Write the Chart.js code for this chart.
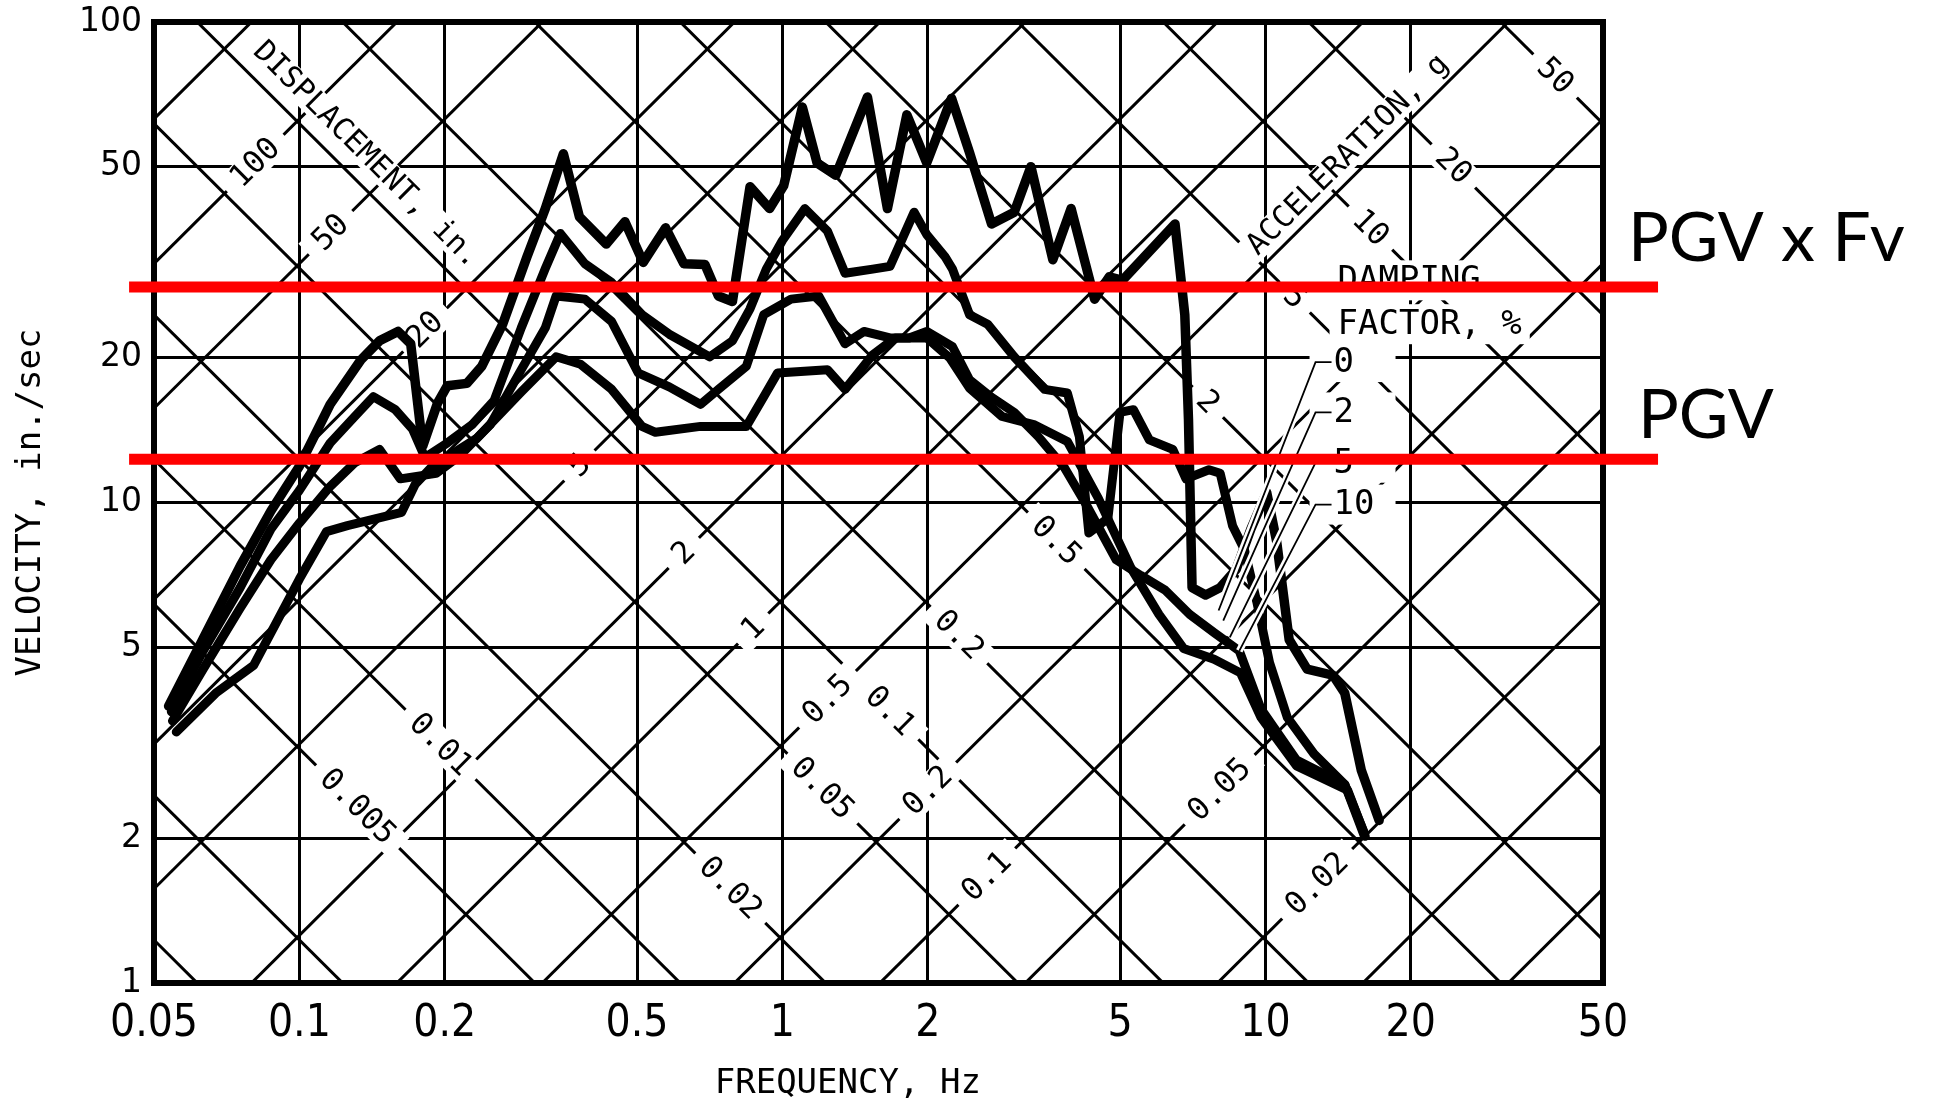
<!DOCTYPE html>
<html>
<head>
<meta charset="utf-8">
<script src="https://cdn.jsdelivr.net/npm/chart.js@4.4.1/dist/chart.umd.min.js"></script>
<style>
html, body { margin: 0; padding: 0; background: #fff; }
</style>
</head>
<body>
<canvas id="myChart" width="1934" height="1111"></canvas>
<script>
// axis ticks
var freqTicks = [0.05, 0.1, 0.2, 0.5, 1, 2, 5, 10, 20, 50];
var velTicks = [1, 2, 5, 10, 20, 50, 100];

// tripartite grid: constant displacement (in.) and acceleration (g)
var dispLines = [0.005, 0.01, 0.02, 0.05, 0.1, 0.2, 0.5, 1, 2, 5, 10, 20, 50, 100, 200];
var accLines = [0.001, 0.002, 0.005, 0.01, 0.02, 0.05, 0.1, 0.2, 0.5, 1, 2, 5, 10, 20, 50];

// which lines carry a number, and at what frequency the number sits
var dispLabelVal = [100, 50, 20, 5, 2, 1, 0.5, 0.2, 0.1, 0.05, 0.02];
var dispLabelFreq = [0.081, 0.116, 0.182, 0.38, 0.625, 0.87, 1.24, 2.0, 2.65, 8.04, 12.8];
var accLabelVal = [50, 20, 10, 5, 2, 0.5, 0.2, 0.1, 0.05, 0.02, 0.01, 0.005];
var accLabelFreq = [39.8, 24.5, 16.5, 11.5, 7.6, 3.69, 2.32, 1.67, 1.21, 0.78, 0.196, 0.132];

// response spectra, damping 0, 2, 5, 10 %
var freq0 = [0.0536, 0.0632, 0.0754, 0.0873, 0.1, 0.1158, 0.134, 0.1465, 0.16, 0.170, 0.180, 0.1932, 0.2024, 0.2222, 0.2385, 0.2636, 0.296, 0.323, 0.352, 0.380, 0.432, 0.472, 0.515, 0.573, 0.625, 0.691, 0.737, 0.788, 0.857, 0.941, 1.006, 1.10, 1.18, 1.29, 1.50, 1.65, 1.81, 1.99, 2.24, 2.44, 2.71, 3.02, 3.27, 3.63, 3.96, 4.43, 4.75, 5.06, 6.50, 6.81, 6.93, 7.05, 7.52, 8.06, 8.70, 9.33, 10.06, 10.55, 11.2, 12.2, 13.8, 14.6, 15.8, 17.2];
var vel0 = [3.77, 5.21, 7.37, 9.6, 11.9, 16.0, 19.8, 21.7, 22.7, 21.4, 13.1, 16.1, 17.5, 17.7, 19.2, 23.5, 32.5, 40.9, 53.2, 39.3, 34.5, 38.4, 31.6, 37.3, 31.4, 31.3, 26.9, 26.2, 45.4, 40.9, 45.6, 66.5, 50.9, 48.0, 69.8, 40.9, 64.1, 50.9, 69.4, 53.5, 38.0, 40.2, 50.0, 32.0, 40.9, 26.5, 29.5, 29.0, 38.0, 24.6, 14.9, 6.65, 6.42, 6.65, 7.26, 8.80, 10.5, 8.30, 5.18, 4.50, 4.37, 4.01, 2.77, 2.18];

var freq2 = [0.0543, 0.0632, 0.0754, 0.0873, 0.1, 0.1158, 0.1302, 0.1422, 0.158, 0.1716, 0.182, 0.2024, 0.2275, 0.253, 0.288, 0.323, 0.347, 0.390, 0.443, 0.512, 0.583, 0.707, 0.788, 0.857, 0.926, 1.0, 1.113, 1.24, 1.348, 1.538, 1.67, 1.874, 1.99, 2.17, 2.25, 2.44, 2.66, 3.02, 3.49, 3.89, 4.12, 4.31, 4.72, 5.0, 5.33, 5.75, 6.43, 6.85, 7.64, 8.06, 8.55, 9.05, 9.60, 10.2, 11.1, 12.6, 14.6, 16.0];
var vel2 = [3.67, 4.91, 6.65, 8.80, 10.6, 13.3, 15.1, 16.6, 15.6, 14.2, 12.4, 13.3, 14.5, 16.3, 23.1, 30.7, 36.3, 31.4, 28.7, 24.6, 22.4, 20.1, 21.7, 25.3, 30.6, 35.1, 40.9, 36.7, 30.0, 30.6, 31.0, 40.2, 36.1, 32.5, 30.6, 24.6, 23.5, 20.1, 17.2, 16.9, 13.7, 8.64, 9.27, 15.4, 15.6, 13.5, 12.9, 11.2, 11.7, 11.5, 8.95, 7.97, 6.21, 4.64, 3.57, 3.00, 2.59, 2.03];

var freq5 = [0.0546, 0.0632, 0.0754, 0.0873, 0.1, 0.1158, 0.1302, 0.1465, 0.1618, 0.1919, 0.2146, 0.2482, 0.288, 0.323, 0.340, 0.390, 0.443, 0.503, 0.583, 0.677, 0.737, 0.842, 0.915, 1.042, 1.189, 1.348, 1.475, 1.67, 1.83, 1.99, 2.25, 2.44, 2.70, 3.02, 3.39, 3.84, 4.26, 4.91, 5.52, 6.20, 6.97, 7.83, 8.83, 9.79, 11.6, 14.6, 16.0];
var vel5 = [3.51, 4.50, 6.03, 7.60, 9.06, 10.8, 12.1, 12.9, 11.2, 11.5, 12.5, 14.5, 18.9, 23.1, 26.9, 26.5, 23.8, 18.6, 17.4, 16.0, 17.2, 19.2, 24.6, 26.5, 26.9, 21.4, 22.7, 22.0, 22.0, 22.7, 21.1, 18.0, 16.6, 15.4, 13.7, 11.8, 9.88, 7.60, 7.05, 6.57, 5.85, 5.36, 4.91, 3.72, 2.91, 2.59, 2.06];

var freq10 = [0.0556, 0.0671, 0.0804, 0.1, 0.1138, 0.1257, 0.1628, 0.1736, 0.1886, 0.2329, 0.288, 0.340, 0.382, 0.443, 0.512, 0.546, 0.677, 0.842, 0.915, 0.977, 1.24, 1.348, 1.538, 1.713, 1.99, 2.22, 2.44, 2.85, 3.33, 3.89, 4.51, 5.27, 6.02, 6.77, 7.83, 8.88, 9.79, 11.6, 14.8, 16.1];
var vel10 = [3.33, 4.01, 4.58, 6.93, 8.70, 8.95, 9.54, 10.9, 11.9, 13.6, 17.0, 20.1, 19.4, 17.2, 14.4, 14.0, 14.4, 14.4, 16.6, 18.6, 18.9, 17.2, 20.3, 22.0, 22.0, 20.0, 17.3, 15.1, 14.5, 13.4, 10.2, 7.30, 5.85, 4.97, 4.72, 4.42, 3.57, 2.83, 2.52, 2.02];

// damping key, leader lines from the numbers down to the curves
var dampLabels = ["0", "2", "5", "10"];
var leaderFreq = 12.7;
var leaderVel = [19.6, 15.4, 12.1, 9.9];
var leaderEndFreq = [8.0, 8.18, 8.44, 8.83];
var leaderEndVel = [5.96, 5.68, 5.24, 4.91];

// red reference levels, in./sec
var pgvFv = 28.1;
var pgv = 12.3;

var G = 386.09; // in/s^2
function dispVel(f, d) { return 2 * Math.PI * f * d; }
function accVel(f, a) { return a * G / (2 * Math.PI * f); }

var MONO = "'DejaVu Sans Mono'";

function boxedText(ctx, text, px, py, angle, size, pad) {
    ctx.save();
    ctx.translate(px, py);
    ctx.rotate(angle);
    ctx.font = size + "px " + MONO;
    var w = ctx.measureText(text).width;
    var h = size * 0.95;
    ctx.fillStyle = '#fff';
    ctx.fillRect(-w / 2 - pad, -h / 2, w + 2 * pad, h);
    ctx.fillStyle = '#000';
    ctx.textAlign = 'center';
    ctx.textBaseline = 'middle';
    ctx.fillText(text, 0, 1);
    ctx.restore();
}

function lineAngle(xs, ys, fn, f, val) {
    var x1 = xs.getPixelForValue(f), y1 = ys.getPixelForValue(fn(f, val));
    var x2 = xs.getPixelForValue(f * 2), y2 = ys.getPixelForValue(fn(f * 2, val));
    return Math.atan2(y2 - y1, x2 - x1);
}

var tripartite = {
    id: 'tripartite',
    beforeDatasetsDraw: function (chart) {
        var ctx = chart.ctx, xs = chart.scales.x, ys = chart.scales.y, a = chart.chartArea;
        ctx.save();
        ctx.beginPath();
        ctx.rect(a.left, a.top, a.right - a.left, a.bottom - a.top);
        ctx.clip();
        ctx.strokeStyle = '#000';
        ctx.lineWidth = 3;
        dispLines.forEach(function (d) {
            ctx.beginPath();
            ctx.moveTo(xs.getPixelForValue(0.05), ys.getPixelForValue(dispVel(0.05, d)));
            ctx.lineTo(xs.getPixelForValue(50), ys.getPixelForValue(dispVel(50, d)));
            ctx.stroke();
        });
        accLines.forEach(function (g) {
            ctx.beginPath();
            ctx.moveTo(xs.getPixelForValue(0.05), ys.getPixelForValue(accVel(0.05, g)));
            ctx.lineTo(xs.getPixelForValue(50), ys.getPixelForValue(accVel(50, g)));
            ctx.stroke();
        });

        var dAng = lineAngle(xs, ys, dispVel, 1, 1);
        var aAng = lineAngle(xs, ys, accVel, 1, 1);
        dispLabelVal.forEach(function (d, i) {
            var f = dispLabelFreq[i];
            boxedText(ctx, String(d), xs.getPixelForValue(f), ys.getPixelForValue(dispVel(f, d)), dAng, 31, 12);
        });
        accLabelVal.forEach(function (g, i) {
            var f = accLabelFreq[i];
            boxedText(ctx, String(g), xs.getPixelForValue(f), ys.getPixelForValue(accVel(f, g)), aAng, 31, 12);
        });
        boxedText(ctx, 'DISPLACEMENT, in.', xs.getPixelForValue(0.138), ys.getPixelForValue(53), aAng, 30, 6);
        boxedText(ctx, 'ACCELERATION, g', xs.getPixelForValue(14.8), ys.getPixelForValue(53), dAng, 30, 6);
        ctx.restore();
    },
    afterDatasetsDraw: function (chart) {
        var ctx = chart.ctx, xs = chart.scales.x, ys = chart.scales.y, a = chart.chartArea;
        ctx.save();

        // frame
        ctx.strokeStyle = '#000';
        ctx.lineWidth = 6;
        ctx.strokeRect(a.left, a.top, a.right - a.left, a.bottom - a.top);

        // damping key
        var lx = xs.getPixelForValue(leaderFreq);
        ctx.font = "34px " + MONO;
        ctx.textBaseline = 'middle';
        ctx.textAlign = 'left';
        [['DAMPING', 29.0], ['FACTOR, %', 23.5]].forEach(function (t) {
            var ty = ys.getPixelForValue(t[1]);
            var w = ctx.measureText(t[0]).width;
            ctx.fillStyle = '#fff';
            ctx.fillRect(lx + 14, ty - 20, w + 16, 40);
            ctx.fillStyle = '#000';
            ctx.fillText(t[0], lx + 22, ty + 1);
        });
        dampLabels.forEach(function (lab, i) {
            var sx = lx, sy = ys.getPixelForValue(leaderVel[i]);
            var ex = xs.getPixelForValue(leaderEndFreq[i]), ey = ys.getPixelForValue(leaderEndVel[i]);
            ctx.fillStyle = '#fff';
            ctx.fillRect(sx - 6, sy - 20, 86, 40);
            ctx.lineCap = 'butt';
            ctx.strokeStyle = '#fff';
            ctx.lineWidth = 7;
            ctx.beginPath(); ctx.moveTo(sx, sy); ctx.lineTo(ex, ey); ctx.stroke();
            ctx.strokeStyle = '#000';
            ctx.lineWidth = 1.8;
            ctx.beginPath(); ctx.moveTo(ex, ey); ctx.lineTo(sx, sy); ctx.lineTo(sx + 16, sy); ctx.stroke();
            ctx.fillStyle = '#000';
            ctx.fillText(lab, sx + 18, sy + 1);
        });

        // red levels
        ctx.strokeStyle = '#ff0000';
        ctx.lineWidth = 11;
        ctx.lineCap = 'butt';
        var x0 = xs.getPixelForValue(0.0444), x1 = xs.getPixelForValue(65);
        [pgvFv, pgv].forEach(function (v) {
            var y = ys.getPixelForValue(v);
            ctx.beginPath(); ctx.moveTo(x0, y); ctx.lineTo(x1, y); ctx.stroke();
        });
        ctx.fillStyle = '#000';
        ctx.font = "68px Lato, 'Noto Sans'";
        ctx.textAlign = 'left';
        ctx.textBaseline = 'middle';
        ctx.fillText('PGV x Fv', a.right + 25, ys.getPixelForValue(pgvFv) - 48);
        ctx.fillText('PGV', a.right + 35, ys.getPixelForValue(pgv) - 43);
        ctx.restore();
    }
};

function makeSet(label, f, v, w) {
    return {
        label: label,
        data: f.map(function (x, i) { return { x: x, y: v[i] }; }),
        borderColor: '#000',
        borderWidth: w,
        pointRadius: 0,
        tension: 0,
        fill: false,
        borderJoinStyle: 'round',
        borderCapStyle: 'round'
    };
}

var chart = new Chart(document.getElementById('myChart'), {
    type: 'line',
    data: {
        datasets: [
            makeSet('0 %', freq0, vel0, 9.5),
            makeSet('2 %', freq2, vel2, 9),
            makeSet('5 %', freq5, vel5, 9),
            makeSet('10 %', freq10, vel10, 9)
        ]
    },
    options: {
        responsive: false,
        animation: false,
        devicePixelRatio: 1,
        layout: { padding: { left: 0, right: 331, top: 22, bottom: 0 } },
        plugins: { legend: { display: false }, tooltip: { enabled: false } },
        scales: {
            x: {
                type: 'logarithmic',
                min: 0.05,
                max: 50,
                afterBuildTicks: function (s) { s.ticks = freqTicks.map(function (v) { return { value: v }; }); },
                afterFit: function (s) { s.height = 128; s.paddingLeft = 0; s.paddingRight = 0; },
                ticks: {
                    color: '#000',
                    autoSkip: false,
                    maxRotation: 0,
                    padding: 15,
                    font: { family: "'DejaVu Sans Condensed', 'DejaVu Sans'", size: 44 },
                    callback: function (v) { return String(v); }
                },
                grid: { color: '#000', lineWidth: 3, drawTicks: false },
                border: { display: false },
                title: {
                    display: true,
                    text: 'FREQUENCY, Hz   ',
                    color: '#000',
                    font: { family: MONO, size: 34 },
                    padding: { top: 0, bottom: 6 }
                }
            },
            y: {
                type: 'logarithmic',
                min: 1,
                max: 100,
                afterBuildTicks: function (s) { s.ticks = velTicks.map(function (v) { return { value: v }; }); },
                afterFit: function (s) { s.width = 154; s.paddingTop = 0; s.paddingBottom = 0; },
                ticks: {
                    color: '#000',
                    autoSkip: false,
                    padding: 12,
                    font: { family: "'DejaVu Sans'", size: 33 },
                    callback: function (v) { return String(v); }
                },
                grid: { color: '#000', lineWidth: 3, drawTicks: false },
                border: { display: false },
                title: {
                    display: true,
                    text: 'VELOCITY, in./sec',
                    color: '#000',
                    font: { family: MONO, size: 34 },
                    padding: { top: 11, bottom: 0 }
                }
            }
        }
    },
    plugins: [tripartite]
});
</script>
</body>
</html>
